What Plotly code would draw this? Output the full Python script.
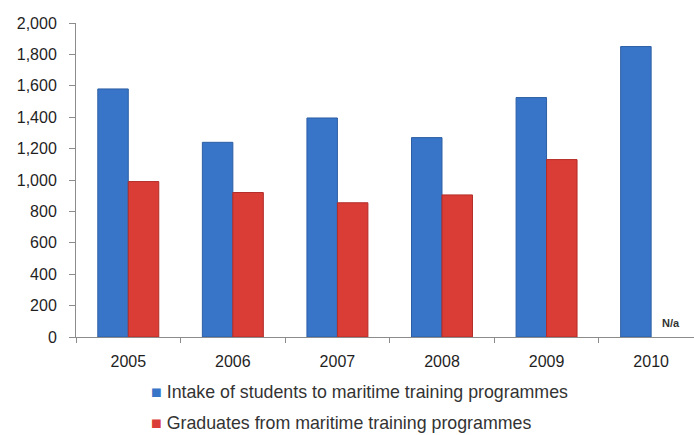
import plotly.graph_objects as go

years = ["2005", "2006", "2007", "2008", "2009", "2010"]
intake = [1580, 1240, 1395, 1270, 1525, 1850]
graduates = [990, 920, 855, 905, 1130, None]
y_ticks = [0, 200, 400, 600, 800, 1000, 1200, 1400, 1600, 1800, 2000]

series_names = [
    "Intake of students to maritime training programmes",
    "Graduates from maritime training programmes",
]
series_colors = ["#3875c8", "#da3d36"]
series_edges = ["#2c5ea4", "#b32c27"]

FONT = "Liberation Sans"
TEXT = "#1f1f1f"

fig = go.Figure()
for name, vals, col, edge in zip(series_names, [intake, graduates],
                                 series_colors, series_edges):
    fig.add_trace(go.Bar(
        x=years, y=vals, name=name,
        marker=dict(color=col, line=dict(color=edge, width=1)),
    ))

# 2010 has no graduates figure
fig.add_annotation(
    x=5, y=0, xref="x", yref="y", text="<b>N/a</b>", showarrow=False,
    xanchor="center", yanchor="bottom", xshift=20, yshift=6,
    font=dict(family=FONT, size=11, color="#333333"),
)

# Legend rows drawn as text below the axis
for i, (name, col) in enumerate(zip(series_names, series_colors)):
    fig.add_annotation(
        x=0.118, y=-0.175 - i * 0.099, xref="paper", yref="paper",
        text=f"<span style='color:{col}'>■</span> {name}",
        showarrow=False, xanchor="left", yanchor="middle",
        font=dict(family=FONT, size=17.8, color="#333333"),
    )

fig.update_layout(
    width=694, height=435,
    margin=dict(l=76, r=0, t=23, b=98),
    paper_bgcolor="white", plot_bgcolor="white",
    barmode="group", bargap=0.417, bargroupgap=0,
    font=dict(family=FONT, size=16, color=TEXT),
    showlegend=False,
    xaxis=dict(
        type="category", range=[-0.5, 5.41],
        showline=True, linecolor="#8c8c8c", linewidth=1,
        ticks="outside", tickson="boundaries", ticklen=5, tickcolor="#8c8c8c",
        showgrid=False, zeroline=False, ticklabelstandoff=10,
        tickfont=dict(family=FONT, size=16, color=TEXT),
    ),
    yaxis=dict(
        range=[0, 2000], tickvals=y_ticks, tickformat=",",
        showline=True, linecolor="#8c8c8c", linewidth=1,
        ticks="outside", ticklen=6, tickcolor="#8c8c8c",
        showgrid=False, zeroline=False, ticklabelstandoff=9,
        tickfont=dict(family=FONT, size=16, color=TEXT),
    ),
)

fig.write_html("out.html")
